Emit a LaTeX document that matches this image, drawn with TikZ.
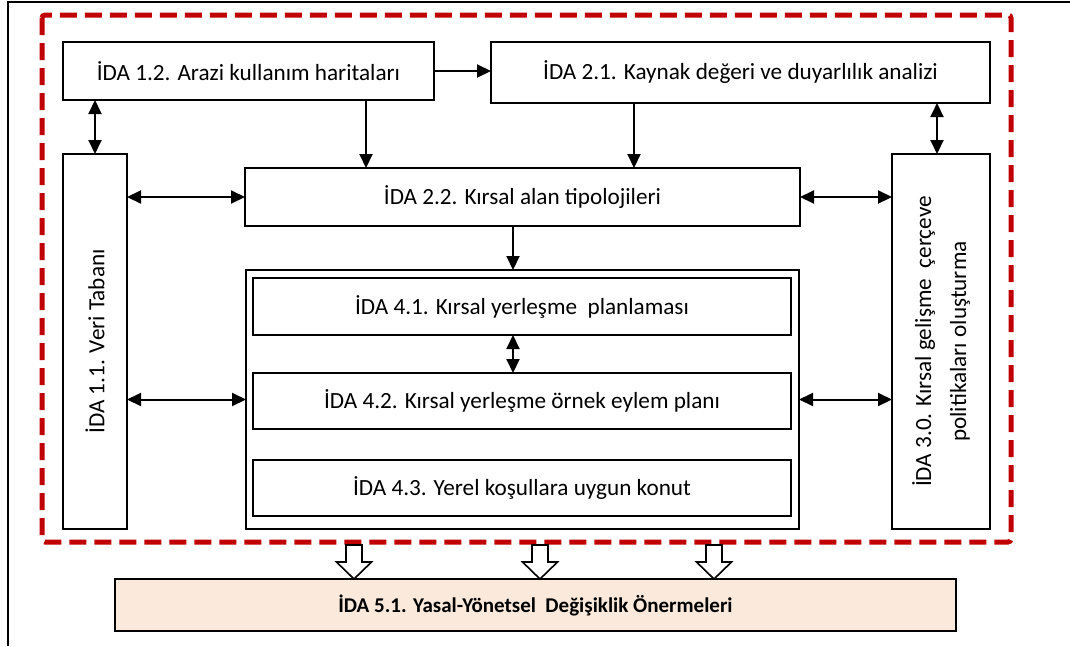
\documentclass[tikz,border=0pt]{standalone}
\usepackage{fontspec}
\setmainfont{Carlito}
\usetikzlibrary{arrows.meta,calc}
\definecolor{dred}{HTML}{C00000}
\definecolor{pinkfill}{HTML}{FBE9DB}
\tikzset{
  box/.style={draw=black,line width=2pt,fill=white,inner sep=0pt,outer sep=0pt,align=center,
     font=\fontsize{23.2}{27}\selectfont},
  arr/.style={line width=2pt,-{Triangle[length=14pt,width=13pt]}},
  darr/.style={line width=2pt,{Triangle[length=14pt,width=13pt]}-{Triangle[length=14pt,width=13pt]}},
  hollow/.style={draw=black,fill=white,line width=1.6pt,line join=miter},
  redframe/.style={draw=dred,line width=5pt,dash pattern=on 17pt off 8pt,rounded corners=3pt},
}
\begin{document}
\begin{tikzpicture}[x=1pt,y=-1pt]
\useasboundingbox (0,0) rectangle (1070,646);
% outer frame (top and left)
\draw[line width=2pt] (8,646) -- (8,2) -- (1070,2);
% red dashed region
\draw[redframe] (42,15) rectangle (1011,542);

% boxes
\node[box,minimum width=371pt,minimum height=58pt] (A12) at (248.5,71) {İDA 1.2. Arazi kullanım haritaları};
\node[box,minimum width=499pt,minimum height=61pt] (A21) at (740.5,72.5) {İDA 2.1. Kaynak değeri ve duyarlılık analizi};
\node[box,minimum width=64pt,minimum height=375pt] (A11) at (95,341.5) {};
\node[rotate=90,font=\fontsize{23.2}{27}\selectfont] (A11t) at (A11.center) {İDA 1.1. Veri Tabanı};
\node[box,minimum width=98pt,minimum height=375pt] (A30) at (941,341.5) {};
\node[rotate=90,align=center,font=\fontsize{23.2}{35}\selectfont] (A30t) at (A30.center)
   {İDA 3.0. Kırsal gelişme \ çerçeve\\politikaları oluşturma};
\node[box,minimum width=555pt,minimum height=58pt] (A22) at (522.5,197) {İDA 2.2. Kırsal alan tipolojileri};
\node[box,minimum width=553pt,minimum height=259pt] (C) at (522.5,399.5) {};
\node[box,minimum width=538pt,minimum height=57pt] (A41) at (522,306.5) {İDA 4.1. Kırsal yerleşme \ planlaması};
\node[box,minimum width=538pt,minimum height=56pt] (A42) at (522,401) {İDA 4.2. Kırsal yerleşme örnek eylem planı};
\node[box,minimum width=538pt,minimum height=56pt] (A43) at (522,488) {İDA 4.3. Yerel koşullara uygun konut};
\node[box,fill=pinkfill,minimum width=841pt,minimum height=52pt,font=\bfseries\fontsize{21}{25}\selectfont] (A51) at (535.5,605)
   {İDA 5.1. Yasal-Yönetsel \ Değişiklik Önermeleri};

% helper coordinates
\coordinate (xA) at (366,0);
\coordinate (xB) at (634,0);
\coordinate (xC) at (937,0);
\coordinate (xD) at (513,0);

% connectors
\draw[arr] (A12.east) -- (A21.west |- A12.east);
\draw[darr] (A12.south -| A11.north) -- (A11.north);
\draw[arr] (A12.south -| xA) -- (A22.north -| xA);
\draw[arr] (A21.south -| xB) -- (A22.north -| xB);
\draw[darr] (A21.south -| xC) -- (A30.north -| xC);
\draw[darr] (A11.east |- A22.west) -- (A22.west);
\draw[darr] (A22.east) -- (A30.west |- A22.east);
\draw[arr] (A22.south -| xD) -- (C.north -| xD);
\draw[darr] (A41.south -| xD) -- (A42.north -| xD);
\draw[darr] (A11.east |- C.west) -- (C.west);
\draw[darr] (C.east) -- (A30.west |- C.east);

% hollow block arrows into A51
\foreach \xx in {354,540,714}{
  \draw[hollow] (\xx-8,545) -- (\xx+8,545) -- (\xx+8,562) -- (\xx+17.5,562) -- (\xx,579) -- (\xx-17.5,562) -- (\xx-8,562) -- cycle;
}
\end{tikzpicture}
\end{document}
